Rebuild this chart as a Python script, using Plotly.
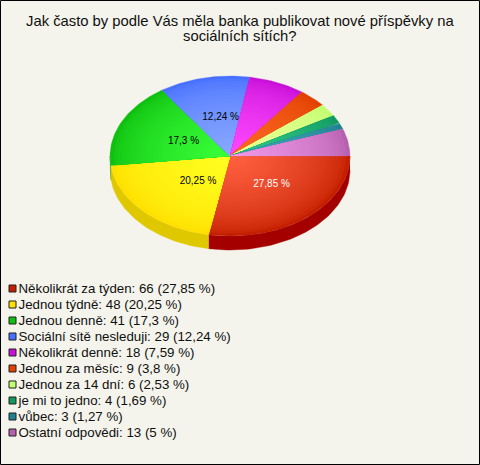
import numpy as np
import plotly.graph_objects as go

categories = ["Několikrát za týden", "Jednou týdně", "Jednou denně", "Sociální sítě nesleduji",
              "Několikrát denně", "Jednou za měsíc", "Jednou za 14 dní", "je mi to jedno", "vůbec",
              "Ostatní odpovědi"]
counts = [66, 48, 41, 29, 18, 9, 6, 4, 3, 13]
percents = ["27,85", "20,25", "17,3", "12,24", "7,59", "3,8", "2,53", "1,69", "1,27", "5"]
base_colors = ["#C42000", "#FFE000", "#10C010", "#4870FF", "#C810D8", "#E04000", "#C0FF70", "#109860", "#208090", "#B860B0"]
light_colors = ["#FF6040", "#FFFF20", "#38FF38", "#88A8FF", "#FF48FF", "#FF6824", "#EEFF98", "#30C888", "#40A8B8", "#F098E8"]
rim_colors = ["#A40000", "#E0C800", "#10A010", "#3858D0", "#A010B0", "#B03000", "#A0D060", "#087848", "#186878", "#904890"]
title_lines = ["Jak často by podle Vás měla banka publikovat nové příspěvky na", "sociálních sítích?"]

W, H = 480, 465
CX, CY, RX, RY, DEPTH = 230.0, 156.0, 120.0, 80.0, 14.0
BANDS = 30
LEGEND_Y0, LEGEND_STEP = 289.5, 16.0
LABEL_FRACTIONS = [(0.54, 0.47), (0.366, 0.47), (0.425, 0.43), (0.36, 0.487)]


def hex_rgb(c):
    return np.array([int(c[i:i + 2], 16) for i in (1, 3, 5)], dtype=float)


def mix(a, b, t):
    v = hex_rgb(a) * (1 - t) + hex_rgb(b) * t
    return "rgb(%d,%d,%d)" % tuple(np.round(v))


fig = go.Figure()


def poly(xs, ys, color, width=0.0):
    fig.add_trace(go.Scatter(x=xs, y=ys, mode="lines", fill="toself", fillcolor=color,
                             line=dict(color=color, width=width), hoverinfo="skip", showlegend=False))


share = np.array(counts, dtype=float) / sum(counts)
edges = np.concatenate([[0.0], np.cumsum(share)]) * 2 * np.pi

# side wall: only the front half (0..pi) is visible
for i in range(len(counts)):
    a0, a1 = edges[i], min(edges[i + 1], np.pi)
    if a0 >= np.pi:
        continue
    t = np.linspace(a0, a1, 60)
    x = CX + RX * np.cos(t)
    y = CY + RY * np.sin(t)
    poly(np.concatenate([x, x[::-1]]), np.concatenate([y, y[::-1] + DEPTH]), rim_colors[i], 0.4)

# top face: nested wedges from rim to centre give the radial shading
for i in range(len(counts)):
    t = np.linspace(edges[i], edges[i + 1], max(12, int(share[i] * 300)))
    for k in range(BANDS):
        f = 1 - k / BANDS
        col = mix(base_colors[i], light_colors[i], (k / (BANDS - 1)) ** 0.6)
        poly(np.concatenate([[CX], CX + f * RX * np.cos(t), [CX]]),
             np.concatenate([[CY], CY + f * RY * np.sin(t), [CY]]), col, 0.3 if k == 0 else 0.0)

# value labels on the larger slices
for i, (fx, fy) in enumerate(LABEL_FRACTIONS):
    m = (edges[i] + edges[i + 1]) / 2
    fig.add_trace(go.Scatter(x=[CX + fx * RX * np.cos(m)], y=[CY + fy * RY * np.sin(m)], mode="text",
                             text=[percents[i] + " %"], textposition="middle center",
                             textfont=dict(family="Liberation Sans", size=10, color="white" if i == 0 else "black"),
                             hoverinfo="skip", showlegend=False))

# key below the pie
rows = [LEGEND_Y0 + LEGEND_STEP * i for i in range(len(counts))]
fig.add_trace(go.Scatter(x=[12.5] * len(counts), y=[r - 1 for r in rows], mode="markers",
                         marker=dict(symbol="square", size=7, color=base_colors, line=dict(color="#202020", width=1)),
                         hoverinfo="skip", showlegend=False))
fig.add_trace(go.Scatter(x=[18.5] * len(counts), y=rows, mode="text",
                         text=[f"{c}: {n} ({p} %)" for c, n, p in zip(categories, counts, percents)],
                         textposition="middle right",
                         textfont=dict(family="Liberation Sans", size=13.3, color="#101010"),
                         hoverinfo="skip", showlegend=False))

ann = [dict(x=240, y=y, xref="x", yref="y", text=s, showarrow=False, xanchor="center", yanchor="middle",
            font=dict(family="Liberation Sans", size=14.8, color="#101010"))
       for s, y in zip(title_lines, (20.5, 35.5))]

fig.update_layout(width=W, height=H, autosize=False, margin=dict(l=0, r=0, t=0, b=0),
                  paper_bgcolor="#F4F4EC", plot_bgcolor="#F4F4EC", annotations=ann, showlegend=False,
                  shapes=[dict(type="rect", xref="x", yref="y", x0=0.5, y0=0.5, x1=W - 0.5, y1=H - 0.5,
                               line=dict(color="black", width=1))])
fig.update_xaxes(range=[0, W], visible=False, fixedrange=True)
fig.update_yaxes(range=[H, 0], visible=False, fixedrange=True)
fig.write_html("out.html", config=dict(displayModeBar=False),
               post_script="document.body.style.margin='0';document.documentElement.style.overflow='hidden';")
